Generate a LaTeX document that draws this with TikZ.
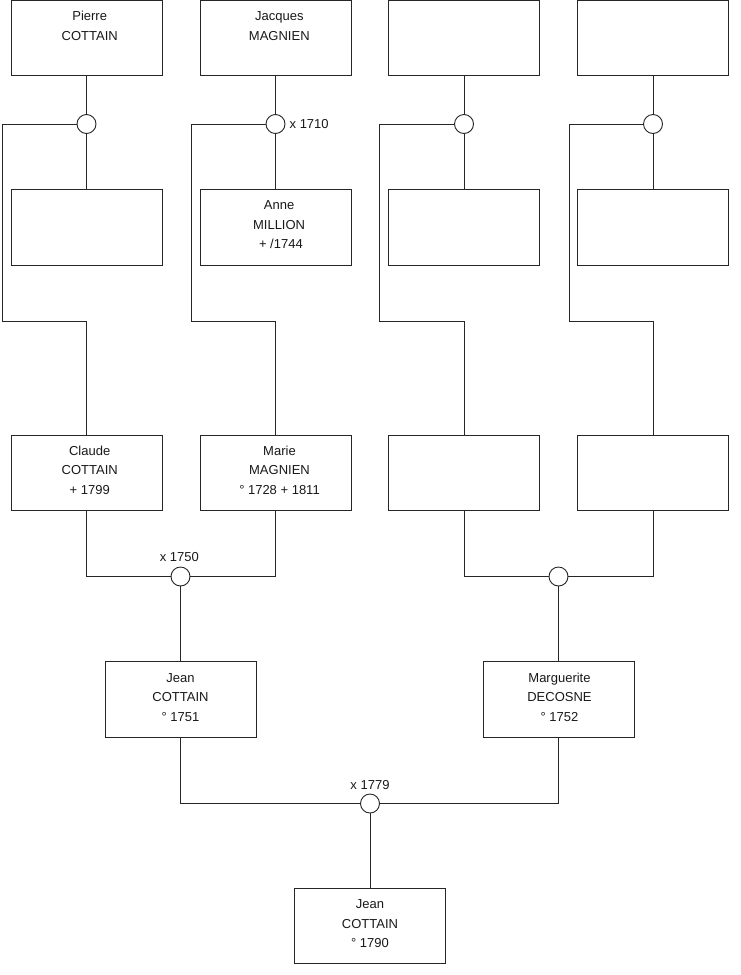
\documentclass[tikz,border=0pt]{standalone}
\usepackage{fontspec}
\setmainfont{Liberation Sans}
\begin{document}
\begin{tikzpicture}[x=1pt,y=-1pt,
  person/.style={draw=black!85, line width=0.9pt, minimum width=151pt, minimum height=75.5pt, inner sep=0pt, fill=white},
  ptext/.style={anchor=north, inner sep=0pt, align=center, font=\fontsize{13}{19.5}\selectfont, text=black!90},
  union/.style={circle, draw=black!85, line width=0.9pt, minimum size=19pt, inner sep=0pt, fill=white},
  link/.style={draw=black!85, line width=0.9pt},
  datelbl/.style={inner sep=0pt, font=\fontsize{13}{15}\selectfont, text=black!90}]
\useasboundingbox (0,0) rectangle (740,975);
% row 1
\node[person] (b1) at (86.5,38) {};
\node[person] (b2) at (275.5,38) {};
\node[person] (b3) at (464,38) {};
\node[person] (b4) at (653,38) {};
% row 2
\node[person] (c1) at (86.5,227.3) {};
\node[person] (c2) at (275.5,227.3) {};
\node[person] (c3) at (464,227.3) {};
\node[person] (c4) at (653,227.3) {};
% row 3
\node[person] (r1) at (86.5,472.7) {};
\node[person] (r2) at (275.5,472.7) {};
\node[person] (r3) at (464,472.7) {};
\node[person] (r4) at (653,472.7) {};
% row 4
\node[person] (s1) at (180.5,699.5) {};
\node[person] (s2) at (558.5,699.5) {};
% bottom
\node[person] (z) at (370,926) {};
% unions
\node[union] (u1) at (86.5,124) {};
\node[union] (u2) at (275.5,124) {};
\node[union] (u3) at (464,124) {};
\node[union] (u4) at (653,124) {};
\node[union] (u5) at (180.5,576.5) {};
\node[union] (u6) at (558.5,576.5) {};
\node[union] (u7) at (370,803.5) {};
% left corners
\coordinate (k1) at (2,124);
\coordinate (k2) at (191,124);
\coordinate (k3) at (379,124);
\coordinate (k4) at (569,124);
% texts
\node[ptext] (tb1) at ([yshift=-7.5pt,xshift=3.2pt]b1.north) {\rule{0pt}{13pt}Pierre\\COTTAIN};
\node[ptext] (tb2) at ([yshift=-7.5pt,xshift=3.8pt]b2.north) {\rule{0pt}{13pt}Jacques\\MAGNIEN};
\node[ptext] (tc2) at ([yshift=-7.5pt,xshift=3.6pt]c2.north) {\rule{0pt}{13pt}Anne\\MILLION\\\hspace*{3.6pt}+ /1744};
\node[ptext] (tr1) at ([yshift=-7.5pt,xshift=3.2pt]r1.north) {\rule{0pt}{13pt}Claude\\COTTAIN\\+ 1799};
\node[ptext] (tr2) at ([yshift=-7.5pt,xshift=4pt]r2.north) {\rule{0pt}{13pt}Marie\\MAGNIEN\\° 1728 + 1811};
\node[ptext] (ts1) at ([yshift=-7.5pt]s1.north) {\rule{0pt}{13pt}Jean\\COTTAIN\\° 1751};
\node[ptext] (ts2) at ([yshift=-7.5pt,xshift=1pt]s2.north) {\rule{0pt}{13pt}Marguerite\\DECOSNE\\° 1752};
\node[ptext] (tz) at ([yshift=-7.5pt]z.north) {\rule{0pt}{13pt}Jean\\COTTAIN\\° 1790};
% date labels
\node[datelbl, anchor=west] (d2) at ([xshift=4pt]u2.east) {x 1710};
\node[datelbl, anchor=south] (d5) at ([yshift=4.5pt,xshift=-1.2pt]u5.north) {x 1750};
\node[datelbl, anchor=south] (d7) at ([yshift=3.8pt]u7.north) {x 1779};
% connectors top families
\foreach \i in {1,2,3,4}{
  \draw[link] (b\i) -- (u\i);
  \draw[link] (u\i) -- (c\i);
  \draw[link] (u\i.west) -- (k\i) -- (k\i |- 0,321.7) -| (r\i.north);
}
% row 3 to unions
\draw[link] (r1.south) |- (u5.west);
\draw[link] (r2.south) |- (u5.east);
\draw[link] (r3.south) |- (u6.west);
\draw[link] (r4.south) |- (u6.east);
\draw[link] (u5) -- (s1);
\draw[link] (u6) -- (s2);
% row 4 to final union
\draw[link] (s1.south) |- (u7.west);
\draw[link] (s2.south) |- (u7.east);
\draw[link] (u7) -- (z);
\end{tikzpicture}
\end{document}
